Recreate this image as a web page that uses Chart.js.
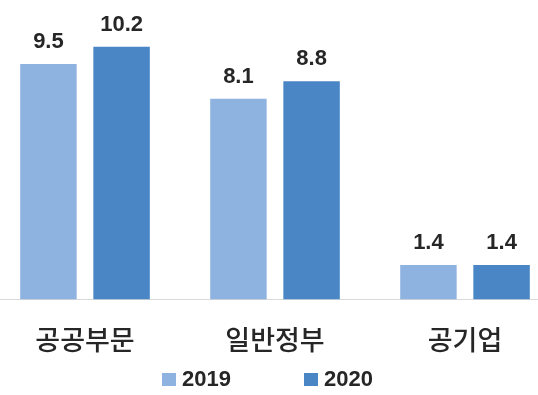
<!DOCTYPE html>
<html>
<head>
<meta charset="utf-8">
<script src="https://cdn.jsdelivr.net/npm/chart.js@4"></script>
<style>
  html, body { margin: 0; padding: 0; background: #fff; overflow: hidden; }
  #wrap { position: absolute; left: -10px; top: 0; width: 570px; height: 395px; }
</style>
</head>
<body>
<div id="wrap"><canvas id="barChart"></canvas></div>
<script>
const categories = ['공공부문', '일반정부', '공기업'];
const values2019 = [9.5, 8.1, 1.4];
const values2020 = [10.2, 8.8, 1.4];
const seriesNames = ['2019', '2020'];

// values drawn above each bar
const valueLabels = {
    id: 'valueLabels',
    afterDatasetsDraw(chart) {
        const c = chart.ctx;
        c.save();
        c.font = 'bold 22px "Liberation Sans", Arial, sans-serif';
        c.fillStyle = '#262626';
        c.textAlign = 'center';
        c.textBaseline = 'alphabetic';
        chart.data.datasets.forEach((ds, i) => {
            chart.getDatasetMeta(i).data.forEach((bar, j) => {
                c.fillText(ds.data[j].toFixed(1), bar.x, bar.y - 16);
            });
        });
        c.restore();
    }
};

// legend row at the bottom
const bottomLegend = {
    id: 'bottomLegend',
    afterDraw(chart) {
        const c = chart.ctx;
        const starts = [172, 314];
        c.save();
        c.font = 'bold 22px "Liberation Sans", Arial, sans-serif';
        c.textBaseline = 'middle';
        chart.data.datasets.forEach((ds, i) => {
            const x = starts[i];
            c.fillStyle = ds.backgroundColor;
            c.fillRect(x, 373, 14, 13);
            c.fillStyle = '#262626';
            c.fillText(ds.label, x + 20, 380);
        });
        c.restore();
    }
};

const ctx = document.getElementById('barChart').getContext('2d');
const barChart = new Chart(ctx, {
    type: 'bar',
    data: {
        labels: categories,
        datasets: [
            {
                label: seriesNames[0],
                data: values2019,
                backgroundColor: '#8fb3e0'
            },
            {
                label: seriesNames[1],
                data: values2020,
                backgroundColor: '#4a86c5'
            }
        ]
    },
    plugins: [valueLabels, bottomLegend],
    options: {
        responsive: true,
        maintainAspectRatio: false,
        animation: false,
        layout: { padding: { top: 2, left: 0, right: 0, bottom: 15 } },
        categoryPercentage: 0.77,
        barPercentage: 0.772,
        plugins: {
            legend: { display: false },
            tooltip: { enabled: false }
        },
        scales: {
            x: {
                grid: { display: false, drawTicks: false },
                border: { display: true, color: '#d9d9d9', width: 1 },
                ticks: {
                    color: '#262626',
                    padding: 24,
                    font: { family: '"Noto Sans CJK KR", sans-serif', size: 27, weight: '500' }
                }
            },
            y: {
                display: false,
                min: 0,
                max: 12
            }
        }
    }
});
</script>
</body>
</html>
